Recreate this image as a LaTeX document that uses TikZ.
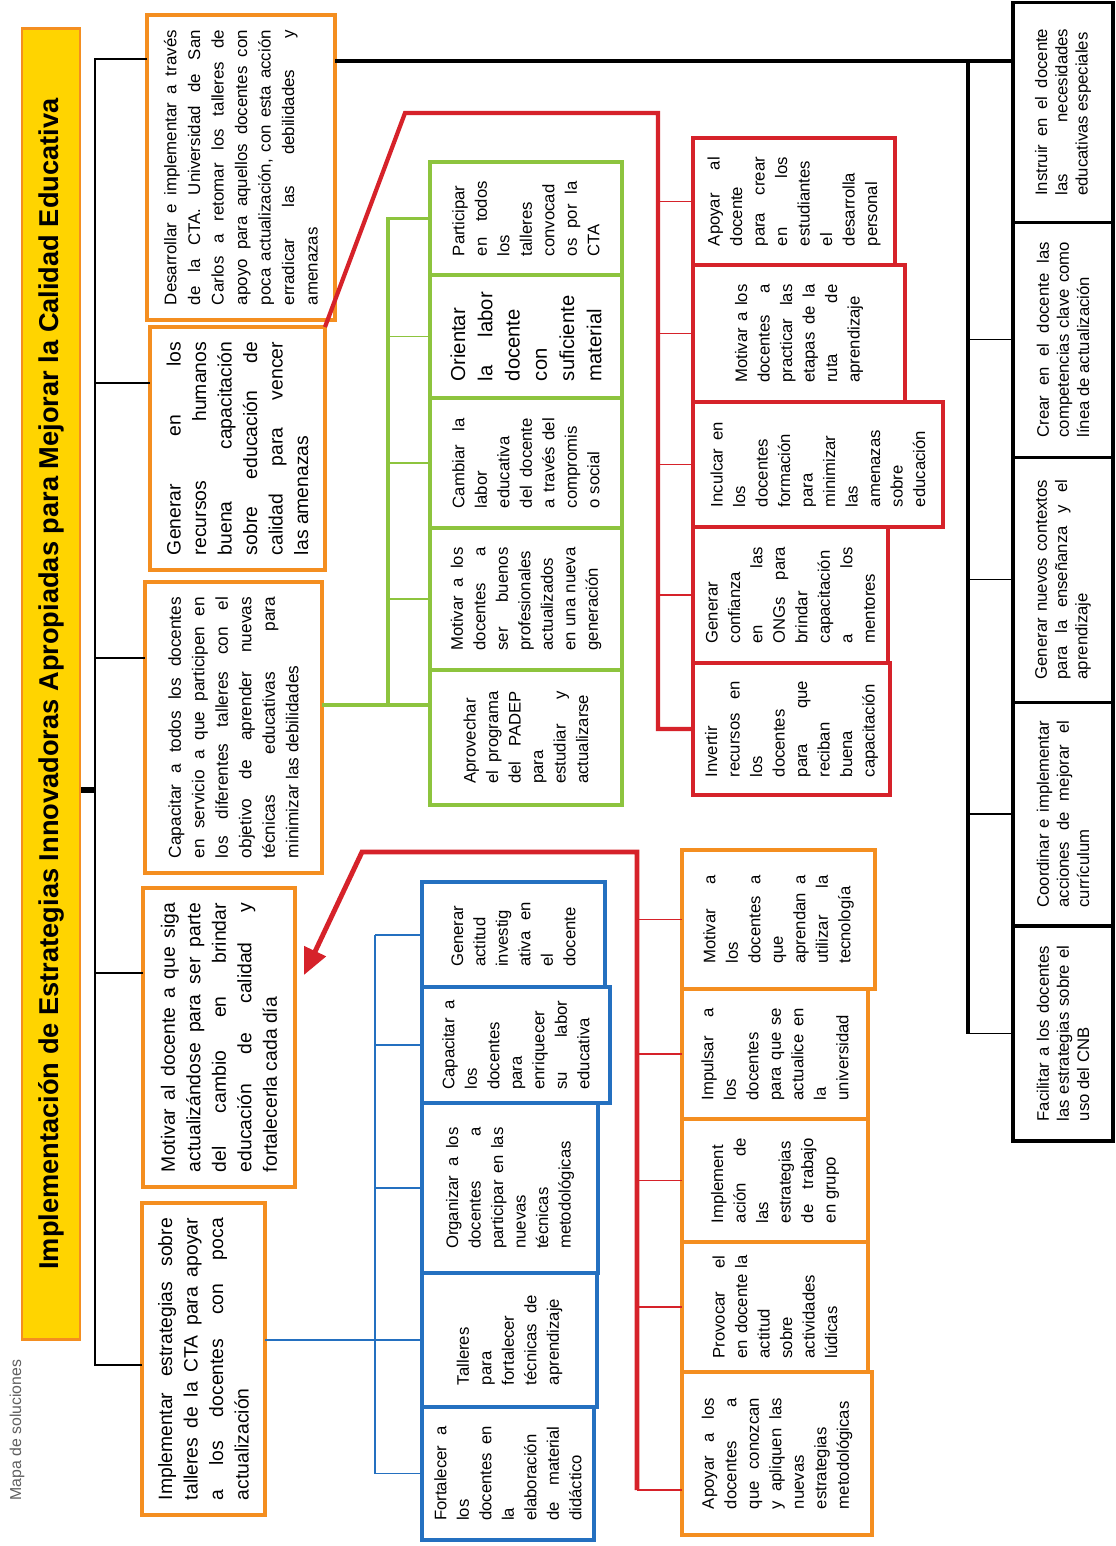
\documentclass[tikz,border=0pt]{standalone}
\usepackage{fontspec}
\setmainfont{Liberation Sans}
\usepackage{tikz}
\usetikzlibrary{arrows.meta}
\definecolor{orng}{RGB}{244,142,32}
\definecolor{ttlyel}{RGB}{255,212,0}
\definecolor{grn}{RGB}{141,196,62}
\definecolor{rd}{RGB}{214,34,42}
\definecolor{blu}{RGB}{36,112,192}
\definecolor{gry}{RGB}{95,95,95}
\setlength{\parindent}{0pt}
\tolerance=10000
\hyphenpenalty=10000
\exhyphenpenalty=10000
\hbadness=10000
\vbadness=10000
\frenchspacing

\begin{document}
\begin{tikzpicture}[
        x = 0.02cm,
        y = -0.02cm,
        tbox/.style = {
            draw,
            fill = white,
            rotate = 90,
            anchor = north west,
            align = justify,
            inner xsep = 0.2cm,
            inner ysep = 2pt,
            outer sep = 0pt,
            line width = 2.2pt,
            font = \fontsize{9.5}{12.8}\selectfont
        },
        mainbox/.style = {tbox, draw = orng, inner xsep = 0.3cm, minimum height = #1},
        grnbox/.style = {tbox, draw = grn, minimum height = 3.84cm, minimum width = #1},
        rdbox/.style 2 args = {tbox, draw = rd, minimum height = #1, minimum width = #2},
        blubox/.style 2 args = {tbox, draw = blu, line width = 2.6pt, minimum height = #1, minimum width = #2},
        orbox/.style 2 args = {tbox, draw = orng, minimum height = #1, minimum width = #2},
        blkbox/.style = {tbox, line width = 1.8pt, inner xsep = 0.3cm, minimum height = 2cm,
                         minimum width = #1, font = \fontsize{9.5}{11.5}\selectfont},
        spine/.style = {line width = 2.4pt},
        branch/.style = {line width = 0.9pt}
        ]
%
        \fill[white] (0,0) rectangle (1116,1546);
        \useasboundingbox (0,0) rectangle (1116,1546);
%
        \node[rotate=90, text=gry, font=\fontsize{9}{10}\selectfont] (M) at (17,1430) {Mapa de soluciones};
        \node[draw=orng, fill=ttlyel, line width=1.7pt, rotate=90, inner sep=0pt,
              minimum width=26.24cm, minimum height=1.16cm,
              font=\bfseries\fontsize{15.5}{18}\selectfont] (T) at (51,684)
              {Implementación de Estrategias Innovadoras Apropiadas para Mejorar la Calidad Educativa};
%
% main boxes
        \node[mainbox=3.76cm, text width=5.5cm, font=\fontsize{9.6}{13.4}\selectfont] (S5) at (147,320)
              {Desarrollar e implementar a través \linebreak de la CTA. Universidad de San \linebreak Carlos a retomar los talleres de \linebreak apoyo para aquellos docentes con \linebreak poca actualización, con esta acción \linebreak erradicar las debilidades y \linebreak amenazas};
        \node[mainbox=3.5cm, text width=4.26cm, font=\fontsize{11}{14.5}\selectfont] (S4) at (150,570)
              {Generar en los \linebreak recursos humanos \linebreak buena capacitación \linebreak sobre educación de \linebreak calidad para vencer \linebreak las amenazas};
        \node[mainbox=3.54cm, text width=5.22cm, font=\fontsize{9.8}{13.4}\selectfont] (S3) at (145,873)
              {Capacitar a todos los docentes \linebreak en servicio a que participen en \linebreak los diferentes talleres con el \linebreak objetivo de aprender nuevas \linebreak técnicas educativas para \linebreak minimizar las debilidades};
        \node[mainbox=3.04cm, text width=5.38cm, font=\fontsize{11}{14.5}\selectfont] (S2) at (143,1187)
              {Motivar al docente a que siga \linebreak actualizándose para ser parte \linebreak del cambio en brindar \linebreak educación de calidad y \linebreak fortalecerla cada día};
        \node[mainbox=2.46cm, text width=5.64cm, font=\fontsize{11}{14.5}\selectfont] (S1) at (142,1515)
              {Implementar estrategias sobre \linebreak talleres de la CTA para apoyar \linebreak a los docentes con poca \linebreak actualización};
%
% green boxes
        \node[grnbox=2.7cm, text width=1.85cm] (G1) at (430,805)
              {Aprovechar \linebreak el programa \linebreak del PADEP \linebreak para \linebreak estudiar y \linebreak actualizarse};
        \node[grnbox=2.84cm, text width=2.06cm] (G2) at (G1.north east)
              {Motivar a los \linebreak docentes a \linebreak ser buenos \linebreak profesionales \linebreak actualizados \linebreak en una nueva \linebreak generación};
        \node[grnbox=2.6cm, text width=1.8cm] (G3) at (G2.north east)
              {Cambiar la \linebreak labor \linebreak educativa \linebreak del docente \linebreak a través del \linebreak compromis \linebreak o social};
        \node[grnbox=2.46cm, text width=1.78cm, font=\fontsize{11.5}{15.5}\selectfont] (G4) at (G3.north east)
              {Orientar \linebreak la labor \linebreak docente \linebreak con \linebreak suficiente \linebreak material};
        \node[grnbox=2.26cm, text width=1.5cm] (G5) at (G4.north east)
              {Participar \linebreak en todos \linebreak los \linebreak talleres \linebreak convocad \linebreak os por la \linebreak CTA};
%
% red boxes
        \node[rdbox={3.94cm}{2.64cm}, text width=1.93cm] (R1) at (693,795)
              {Invertir \linebreak recursos en \linebreak los \linebreak docentes \linebreak para que \linebreak reciban \linebreak buena \linebreak capacitación};
        \node[rdbox={3.9cm}{2.72cm}, text width=1.93cm] (R2) at (R1.north east)
              {Generar \linebreak confianza \linebreak en las \linebreak ONGs para \linebreak brindar \linebreak capacitación \linebreak a los \linebreak mentores};
        \node[rdbox={5cm}{2.5cm}, text width=1.7cm] (R3) at (R2.north east)
              {Inculcar en \linebreak los \linebreak docentes \linebreak formación \linebreak para \linebreak minimizar \linebreak las \linebreak amenazas \linebreak sobre \linebreak educación};
        \node[rdbox={4.24cm}{2.74cm}, text width=1.96cm] (R4) at (R3.north east)
              {Motivar a los \linebreak docentes a \linebreak practicar las \linebreak etapas de la \linebreak ruta de \linebreak aprendizaje};
        \node[rdbox={4.04cm}{2.54cm}, text width=1.78cm] (R5) at (R4.north east)
              {Apoyar al \linebreak docente \linebreak para crear \linebreak en los \linebreak estudiantes \linebreak el \linebreak desarrolla \linebreak personal};
%
% blue boxes
        \node[blubox={3.44cm}{2.66cm}, text width=1.89cm] (B1) at (422,1540)
              {Fortalecer a \linebreak los \linebreak docentes en \linebreak la \linebreak elaboración \linebreak de material \linebreak didáctico};
        \node[blubox={3.5cm}{2.68cm}, text width=1.8cm] (B2) at (B1.north east)
              {Talleres \linebreak para \linebreak fortalecer \linebreak técnicas de \linebreak aprendizaje};
        \node[blubox={3.52cm}{3.4cm}, text width=2.43cm] (B3) at (B2.north east)
              {Organizar a los \linebreak docentes a \linebreak participar en las \linebreak nuevas \linebreak técnicas \linebreak metodológicas};
        \node[blubox={3.76cm}{2.32cm}, text width=1.78cm] (B4) at (B3.north east)
              {Capacitar a \linebreak los \linebreak docentes \linebreak para \linebreak enriquecer \linebreak su labor \linebreak educativa};
        \node[blubox={3.66cm}{2.1cm}, text width=1.29cm] (B5) at (B4.north east)
              {Generar \linebreak actitud \linebreak investig \linebreak ativa en \linebreak el \linebreak docente};
%
% orange boxes under the arrow
        \node[orbox={3.8cm}{3.26cm}, text width=2.22cm] (O1) at (682,1535)
              {Apoyar a los \linebreak docentes a \linebreak que conozcan \linebreak y apliquen las \linebreak nuevas \linebreak estrategias \linebreak metodológicas};
        \node[orbox={3.72cm}{2.6cm}, text width=2.06cm] (O2) at (O1.north east)
              {Provocar el \linebreak en docente la \linebreak actitud \linebreak sobre \linebreak actividades \linebreak lúdicas};
        \node[orbox={3.72cm}{2.46cm}, text width=1.7cm] (O3) at (O2.north east)
              {Implement \linebreak ación de \linebreak las \linebreak estrategias \linebreak de trabajo \linebreak en grupo};
        \node[orbox={3.72cm}{2.6cm}, text width=1.85cm] (O4) at (O3.north east)
              {Impulsar a \linebreak los \linebreak docentes \linebreak para que se \linebreak actualice en \linebreak la \linebreak universidad};
        \node[orbox={3.86cm}{2.78cm}, text width=1.76cm] (O5) at (O4.north east)
              {Motivar a \linebreak los \linebreak docentes a \linebreak que \linebreak aprendan a \linebreak utilizar la \linebreak tecnología};
%
% black boxes
        \node[blkbox=4.3cm, text width=3.51cm] (K1) at (1013,1141)
              {Facilitar a los docentes \linebreak las estrategias sobre el \linebreak uso del CNB};
        \node[blkbox=4.48cm, text width=3.74cm] (K2) at (K1.north east)
              {Coordinar e implementar \linebreak acciones de mejorar el \linebreak currículum};
        \node[blkbox=4.9cm, text width=3.99cm] (K3) at (K2.north east)
              {Generar nuevos contextos \linebreak para la enseñanza y el \linebreak aprendizaje};
        \node[blkbox=4.7cm, text width=3.91cm] (K4) at (K3.north east)
              {Crear en el docente las \linebreak competencias clave como \linebreak línea de actualización};
        \node[blkbox=4.4cm, text width=3.34cm] (K5) at (K4.north east)
              {Instruir en el docente \linebreak las necesidades \linebreak educativas especiales};
%
% trunk
        \coordinate (t5) at (95,59);
        \coordinate (t4) at (95,383);
        \coordinate (t3) at (95,658);
        \coordinate (t2) at (95,973);
        \coordinate (t1) at (95,1365);
        \coordinate (tj) at (95,790);
        \draw[line width = 1.1pt] (t5 -| S5.north) -- (t5) -- (t1) -- (t1 -| S1.north);
        \draw[line width = 1.1pt] (t4) -- (t4 -| S4.north);
        \draw[line width = 1.1pt] (t3) -- (t3 -| S3.north);
        \draw[line width = 1.1pt] (t2) -- (t2 -| S2.north);
        \draw[line width = 3pt] (T.south |- tj) -- (tj);
%
% black
        \coordinate (kt) at (968,61);
        \draw[spine] (S5.south |- kt) -- (kt -| K5.north);
        \draw[spine] (kt) -- (kt |- K1.north);
        \draw[branch] (kt |- K1.north) -- (K1.north);
        \draw[branch] (kt |- K2.north) -- (K2.north);
        \draw[branch] (kt |- K3.north) -- (K3.north);
        \draw[branch] (kt |- K4.north) -- (K4.north);
%
% green
        \coordinate (gj) at (388,705);
        \draw[grn, line width = 1.8pt] (S3.south |- gj) -- (gj -| G1.north);
        \draw[grn, line width = 1.8pt] (gj) -- (gj |- G5.north) -- (G5.north);
        \draw[grn, branch] (gj |- G2.north) -- (G2.north);
        \draw[grn, branch] (gj |- G3.north) -- (G3.north);
        \draw[grn, branch] (gj |- G4.north) -- (G4.north);
%
% red, top
        \coordinate (rk) at (405,113);
        \coordinate (rt) at (658,113);
        \draw[rd, spine] (S4.south east) -- (rk) -- (rt) -- (rt |- R1.north) -- (R1.north);
        \draw[rd, branch] (rt |- R2.north) -- (R2.north);
        \draw[rd, branch] (rt |- R3.north) -- (R3.north);
        \draw[rd, branch] (rt |- R4.north) -- (R4.north);
        \draw[rd, branch] (rt |- R5.north) -- (R5.north);
%
% blue
        \coordinate (bs) at (375,934);
        \draw[blu, line width = 1.1pt] (S1.south |- B2.north) -- (B2.north);
        \draw[blu, line width = 1.1pt] (bs |- B5.north) -- (B5.north);
        \draw[blu, line width = 1.1pt] (bs |- B5.north) -- (bs |- B1.north) -- (B1.north);
        \draw[blu, line width = 1.1pt] (bs |- B3.north) -- (B3.north);
        \draw[blu, line width = 1.1pt] (bs |- B4.north) -- (B4.north);
%
% red, bottom, with the arrow
        \coordinate (ob) at (637,1490);
        \coordinate (ot) at (637,852);
        \coordinate (ok) at (362,852);
        \coordinate (aw) at (304,975);
        \draw[rd, line width = 2.8pt, -{Triangle[length=15pt, width=13pt]}] (ob) -- (ot) -- (ok) -- (aw);
        \draw[rd, branch] (ob) -- (ob -| O1.north);
        \draw[rd, branch] (ot |- O2.north) -- (O2.north);
        \draw[rd, branch] (ot |- O3.north) -- (O3.north);
        \draw[rd, branch] (ot |- O4.north) -- (O4.north);
        \draw[rd, branch] (ot |- O5.north) -- (O5.north);
%
\end{tikzpicture}
\end{document}
